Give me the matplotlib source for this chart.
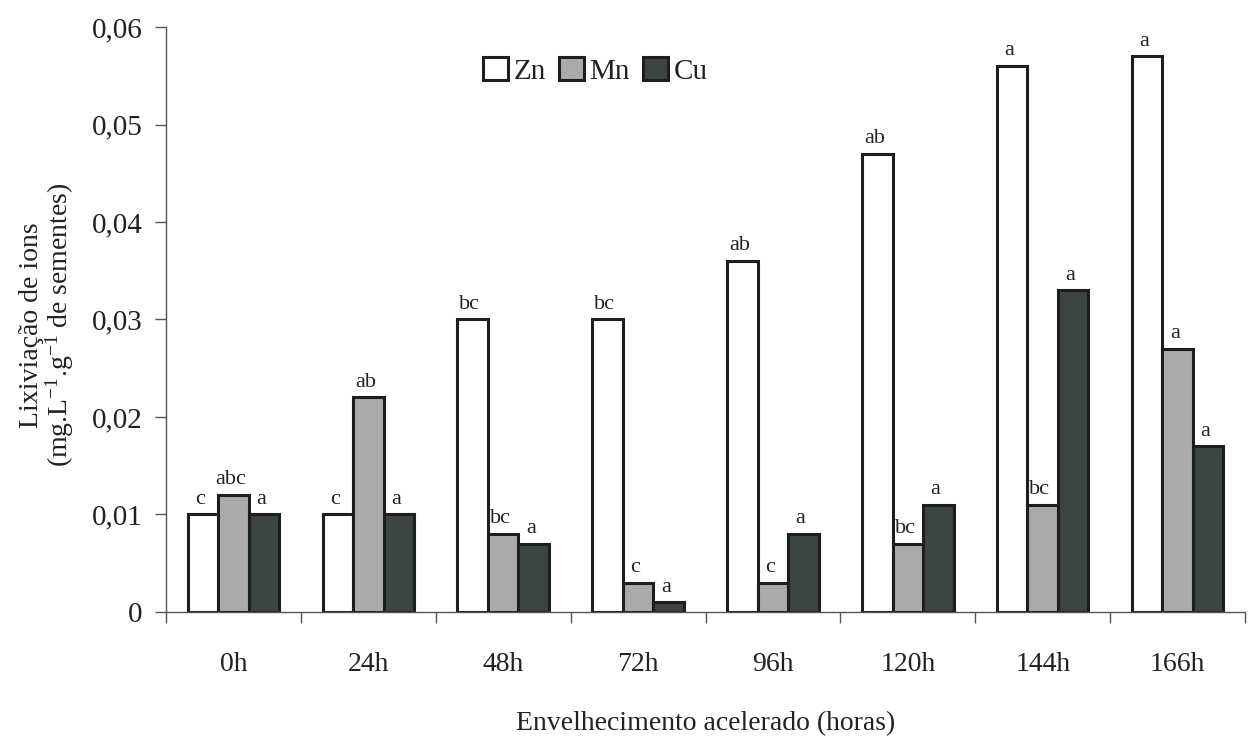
import matplotlib
matplotlib.use('Agg')
import matplotlib.pyplot as plt
from matplotlib.ticker import FuncFormatter
import numpy as np

plt.rcParams['font.family'] = ['Liberation Serif', 'DejaVu Serif']
plt.rcParams['mathtext.fontset'] = 'custom'
plt.rcParams['mathtext.rm'] = 'Liberation Serif'
plt.rcParams['mathtext.it'] = 'Liberation Serif:italic'

# Ion leaching per accelerated ageing period
periods = ['0h', '24h', '48h', '72h', '96h', '120h', '144h', '166h']
zn = [0.010, 0.010, 0.030, 0.030, 0.036, 0.047, 0.056, 0.057]
mn = [0.012, 0.022, 0.008, 0.003, 0.003, 0.007, 0.011, 0.027]
cu = [0.010, 0.010, 0.007, 0.001, 0.008, 0.011, 0.033, 0.017]

# Tukey letters above each bar
zn_letters = ['c', 'c', 'bc', 'bc', 'ab', 'ab', 'a', 'a']
mn_letters = ['abc', 'ab', 'bc', 'c', 'c', 'bc', 'bc', 'a']
cu_letters = ['a', 'a', 'a', 'a', 'a', 'a', 'a', 'a']

series = [('Zn', zn, zn_letters, '#ffffff'),
          ('Mn', mn, mn_letters, '#a9aaa9'),
          ('Cu', cu, cu_letters, '#3c4544')]

fig = plt.figure(figsize=(12.52, 7.36), dpi=100)
ax = fig.add_axes([0.1326, 0.1685, 0.8618, 0.7948])

x = np.arange(len(periods))
w = 0.226
for i, (name, vals, letters, color) in enumerate(series):
    pos = x + (i - 1) * w
    ax.bar(pos, vals, width=w, color=color, edgecolor='#1e1e1e', linewidth=2.2, label=name)
    for px, v, lt in zip(pos, vals, letters):
        ax.annotate(lt, (px, v), xytext=(-2, 4), textcoords='offset points',
                    ha='center', va='bottom', fontsize=16, color='#222222')

ax.set_xlim(-0.5, 7.5)
ax.set_ylim(0, 0.06)
ax.set_yticks(np.arange(0, 0.061, 0.01))
ax.yaxis.set_major_formatter(FuncFormatter(
    lambda v, p: '0' if abs(v) < 1e-9 else f'{v:.2f}'.replace('.', ',')))
ax.tick_params(axis='y', direction='out', length=8, width=1, color='#555555',
               labelsize=21, pad=9, labelcolor='#222222')

ax.set_xticks(x)
ax.set_xticklabels(periods)
ax.set_xticks(np.arange(-0.5, 8.0, 1.0), minor=True)
ax.tick_params(axis='x', which='major', length=0, labelsize=20, pad=29, labelcolor='#222222')
ax.tick_params(axis='x', which='minor', direction='out', length=8, width=1, color='#555555')

for s in ['top', 'right']:
    ax.spines[s].set_visible(False)
for s in ['left', 'bottom']:
    ax.spines[s].set_color('#555555')
    ax.spines[s].set_linewidth(1)

ax.set_ylabel('Lixiviação de ions\n(mg.L$^{-1}$.g$^{-1}$ de sementes)', fontsize=20,
              color='#222222', linespacing=1.0)
ax.yaxis.set_label_coords(-0.083, 0.49)
ax.set_xlabel('Envelhecimento acelerado (horas)', fontsize=20, color='#222222')
ax.xaxis.set_label_coords(0.5, -0.17)

ax.legend(loc='center', bbox_to_anchor=(0.398, 0.925), ncol=3, frameon=False,
          fontsize=21, handlelength=0.85, handleheight=0.85, handletextpad=0.2,
          columnspacing=0.45, labelcolor='#222222')

fig.savefig('out.png', dpi=100)
